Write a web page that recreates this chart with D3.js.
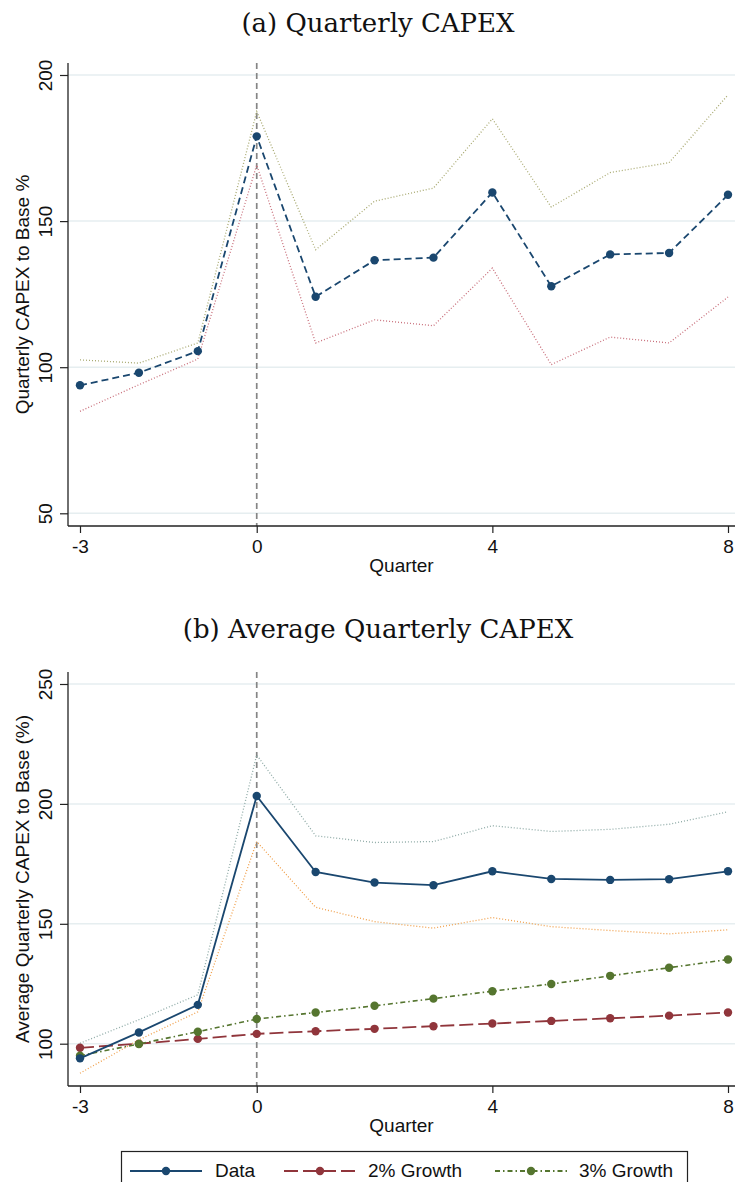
<!DOCTYPE html>
<html>
<head>
<meta charset="utf-8">
<script src="https://cdn.jsdelivr.net/npm/d3@7"></script>
<style>
  body { margin: 0; background: #fff; }
  text { font-family: "Liberation Sans", Arial, sans-serif; fill: #111; }
  .title { font-family: "DejaVu Serif", serif; font-size: 26px; }
</style>
</head>
<body>
<svg id="chart" width="735" height="1182"></svg>
<script>
// quarters relative to event
const quarters = [-3, -2, -1, 0, 1, 2, 3, 4, 5, 6, 7, 8];
const xTicks = [-3, 0, 4, 8];

// panel (a) quarterly capex, % of base
const capexData  = [93.8, 98.1, 105.5, 179.0, 124.1, 136.6, 137.5, 159.8, 127.7, 138.6, 139.1, 159.0];
const capexUpper = [102.5, 101.4, 108.3, 187.5, 140.2, 156.8, 161.3, 185.0, 154.8, 166.6, 170.0, 193.2];
const capexLower = [84.9, 94.0, 102.8, 169.2, 108.3, 116.2, 114.2, 133.9, 100.9, 110.3, 108.3, 124.0];
const capexTicks = [50, 100, 150, 200];

// panel (b) average quarterly capex, % of base
const avgData  = [93.9, 104.7, 116.2, 203.3, 171.6, 167.2, 166.1, 171.9, 168.7, 168.3, 168.6, 171.9];
const avgUpper = [100.2, 110.0, 120.4, 220.4, 186.7, 183.9, 184.3, 190.9, 188.5, 189.4, 191.5, 196.7];
const avgLower = [87.7, 101.6, 113.3, 184.3, 156.9, 150.9, 148.2, 152.6, 148.8, 147.2, 145.8, 147.5];
const growth2  = [98.3, 100.0, 102.0, 104.1, 105.2, 106.2, 107.3, 108.4, 109.5, 110.6, 111.7, 113.0];
const growth3  = [95.0, 99.9, 105.0, 110.3, 113.0, 115.8, 118.8, 121.9, 124.9, 128.3, 131.7, 135.1];
const avgTicks = [100, 150, 200, 250];

const legendLabels = ["Data", "2% Growth", "3% Growth"];

const navy = "#1a476f", maroon = "#90353b", green = "#55752f";

const svg = d3.select("#chart");
const x = d3.scaleLinear().domain([-3, 8]).range([80, 728]);
const axisX = 68, axisRight = 735;

function drawPanel(cfg) {
    const y = d3.scaleLinear().domain(cfg.domain).range(cfg.range);
    const g = svg.append("g");

    // gridlines
    g.selectAll("line.grid").data(cfg.ticks).enter().append("line")
        .attr("x1", axisX).attr("x2", axisRight)
        .attr("y1", d => y(d)).attr("y2", d => y(d))
        .attr("stroke", "#e6eef0").attr("stroke-width", 1.5);

    // event line at quarter 0
    g.append("line")
        .attr("x1", x(0)).attr("x2", x(0))
        .attr("y1", cfg.top).attr("y2", cfg.bottom)
        .attr("stroke", "#858585").attr("stroke-width", 1.7)
        .attr("stroke-dasharray", "6,4");

    const line = d3.line().x((d, i) => x(quarters[i])).y(d => y(d));

    cfg.series.forEach(s => {
        g.append("path").datum(s.values)
            .attr("d", line).attr("fill", "none")
            .attr("stroke", s.color).attr("stroke-width", s.width)
            .attr("stroke-dasharray", s.dash || null);
        if (s.markers) {
            g.selectAll(null).data(s.values).enter().append("circle")
                .attr("cx", (d, i) => x(quarters[i])).attr("cy", d => y(d))
                .attr("r", 4.2).attr("fill", s.color);
        }
    });

    // y axis
    const yAxis = g.append("g").attr("transform", `translate(${axisX},0)`)
        .call(d3.axisLeft(y).tickValues(cfg.ticks).tickSize(8).tickFormat(d => String(d)));
    yAxis.select(".domain").remove();
    yAxis.selectAll("line").attr("stroke", "#222").attr("stroke-width", 1.2);
    yAxis.selectAll("text")
        .attr("transform", "rotate(-90)")
        .attr("x", 0).attr("y", -16).attr("dy", 0)
        .attr("text-anchor", "middle")
        .style("font-size", "19px").style("font-family", "Liberation Sans, Arial, sans-serif");
    g.append("line").attr("x1", axisX).attr("x2", axisX)
        .attr("y1", cfg.top).attr("y2", cfg.bottom)
        .attr("stroke", "#222").attr("stroke-width", 1.3);

    // x axis
    const xAxis = g.append("g").attr("transform", `translate(0,${cfg.bottom})`)
        .call(d3.axisBottom(x).tickValues(xTicks).tickSize(7).tickFormat(d => String(d)));
    xAxis.select(".domain").remove();
    xAxis.selectAll("line").attr("stroke", "#222").attr("stroke-width", 1.2);
    xAxis.selectAll("text").attr("y", 27).attr("dy", 0)
        .style("font-size", "19px").style("font-family", "Liberation Sans, Arial, sans-serif");
    g.append("line").attr("x1", axisX).attr("x2", axisRight)
        .attr("y1", cfg.bottom).attr("y2", cfg.bottom)
        .attr("stroke", "#222").attr("stroke-width", 1.3);

    // titles
    g.append("text").attr("class", "title")
        .attr("x", 378).attr("y", cfg.titleY).attr("text-anchor", "middle")
        .text(cfg.title);
    g.append("text").attr("x", (axisX + axisRight) / 2).attr("y", cfg.bottom + 46)
        .attr("text-anchor", "middle").style("font-size", "19px").text("Quarter");
    g.append("text")
        .attr("transform", `translate(29,${(cfg.top + cfg.bottom) / 2}) rotate(-90)`)
        .attr("text-anchor", "middle").style("font-size", "19px").text(cfg.yLabel);
}

drawPanel({
    title: "(a) Quarterly CAPEX", titleY: 32,
    yLabel: "Quarterly CAPEX to Base %",
    domain: [50, 200], range: [513.3, 75], ticks: capexTicks,
    top: 63, bottom: 526,
    series: [
        {values: capexUpper, color: "#a9aa72", width: 1.3, dash: "1,2"},
        {values: capexLower, color: "#c9707c", width: 1.3, dash: "1,2"},
        {values: capexData, color: navy, width: 1.8, dash: "7,4", markers: true}
    ]
});

drawPanel({
    title: "(b) Average Quarterly CAPEX", titleY: 638,
    yLabel: "Average Quarterly CAPEX to Base (%)",
    domain: [100, 250], range: [1043.7, 684], ticks: avgTicks,
    top: 672, bottom: 1086,
    series: [
        {values: avgUpper, color: "#8eaaa6", width: 1.3, dash: "1,2"},
        {values: avgLower, color: "#f0a04c", width: 1.3, dash: "1,2"},
        {values: growth2, color: maroon, width: 1.8, dash: "14,5", markers: true},
        {values: growth3, color: green, width: 1.6, dash: "5,3,1.5,3", markers: true},
        {values: avgData, color: navy, width: 1.8, markers: true}
    ]
});

// legend
const legendStyles = [
    {color: navy, dash: null, x0: 130, textX: 215},
    {color: maroon, dash: "14,5", x0: 284, textX: 368},
    {color: green, dash: "5,3,1.5,3", x0: 495, textX: 579}
];
const lg = svg.append("g");
lg.append("rect").attr("x", 121.5).attr("y", 1151.5).attr("width", 566).attr("height", 45)
    .attr("fill", "#fff").attr("stroke", "#222").attr("stroke-width", 1.2);
legendLabels.forEach((lab, i) => {
    const s = legendStyles[i];
    lg.append("line").attr("x1", s.x0).attr("x2", s.x0 + 72)
        .attr("y1", 1171).attr("y2", 1171)
        .attr("stroke", s.color).attr("stroke-width", 1.8)
        .attr("stroke-dasharray", s.dash);
    lg.append("circle").attr("cx", s.x0 + 36).attr("cy", 1171).attr("r", 4.2).attr("fill", s.color);
    lg.append("text").attr("x", s.textX).attr("y", 1177).style("font-size", "19px").text(lab);
});
</script>
</body>
</html>
